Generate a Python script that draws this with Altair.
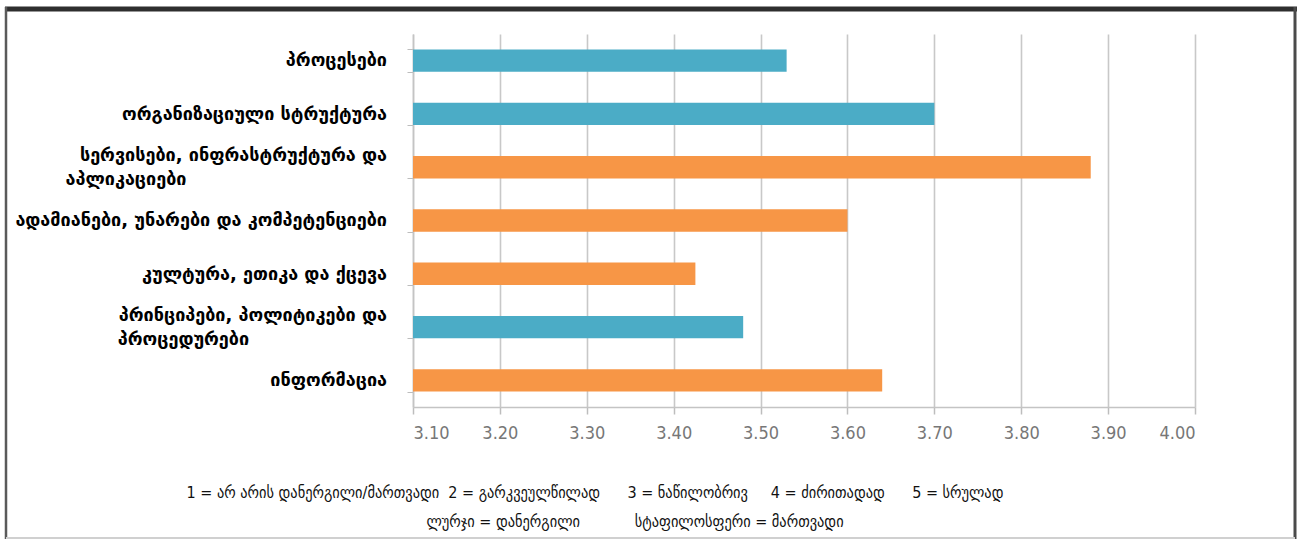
import altair as alt
import pandas as pd

# Categories, top to bottom; "|" marks a line break in the printed label
categories = [
    "პროცესები",
    "ორგანიზაციული სტრუქტურა",
    "სერვისები, ინფრასტრუქტურა და|აპლიკაციები",
    "ადამიანები, უნარები და კომპეტენციები",
    "კულტურა, ეთიკა და ქცევა",
    "პრინციპები, პოლიტიკები და|პროცედურები",
    "ინფორმაცია",
]
scores = [3.53, 3.70, 3.88, 3.60, 3.425, 3.48, 3.64]
groups = ["დანერგილი", "დანერგილი", "მართვადი", "მართვადი", "მართვადი", "დანერგილი", "მართვადი"]
group_names = ["დანერგილი", "მართვადი"]
group_colors = ["#4BACC6", "#F79646"]
x_ticks = [3.1, 3.2, 3.3, 3.4, 3.5, 3.6, 3.7, 3.8, 3.9, 4.0]
x_min, x_max = 3.1, 4.0

NB = "\u00a0"
ZW = "\u200b"  # keeps trailing no-break spaces from being trimmed
legend_line_1 = ("1 = არ არის დანერგილი/მართვადი" + NB * 2 + "2 = გარკვეულწილად" + NB * 6
                 + "3 = ნაწილობრივ" + NB * 5 + "4 = ძირითადად" + NB * 6 + "5 = სრულად")
legend_line_2 = "ლურჯი = დანერგილი" + NB * 12 + "სტაფილოსფერი = მართვადი"

# second lines of wrapped labels keep a left edge in line with the first line
wrap_pad = {"აპლიკაციები": 32, "პროცედურები": 22}


def printed_label(c):
    parts = c.split("|")
    if len(parts) > 1:
        parts[1] = parts[1] + NB * wrap_pad.get(parts[1], 0) + ZW
    return "|".join(parts)


df = pd.DataFrame({
    "category": categories,
    "score": scores,
    "group": groups,
    "label": [printed_label(c) for c in categories],
    # offset from the top of the bar's band: one-line names sit on the bar's middle
    "shift": [0 if "|" in c else 12 for c in categories],
})

W, H = 782, 373
PAD_L, PAD_T = 413, 34

y_enc = alt.Y(
    "category:N",
    sort=categories,
    scale=alt.Scale(paddingInner=0.58, paddingOuter=0.29),
    axis=alt.Axis(
        title=None,
        labels=False,
        tickBand="extent",
        tickSize=6,
        tickColor="#bdbdbd",
        domainColor="#c4c4c4",
        domainWidth=1.5,
        grid=False,
    ),
)

bars = alt.Chart(df).mark_bar().encode(
    y=y_enc,
    x=alt.X(
        "score:Q",
        scale=alt.Scale(domain=[x_min, x_max], zero=False, nice=False),
        axis=alt.Axis(
            title=None,
            values=x_ticks,
            format=".2f",
            labelFont="DejaVu Sans Condensed",
            labelFontSize=18,
            labelColor="#777777",
            labelPadding=10,
            tickSize=7,
            tickColor="#bdbdbd",
            tickWidth=1.5,
            domainColor="#c4c4c4",
            domainWidth=1.5,
            grid=True,
            gridColor="#c8c8c8",
            gridWidth=1.6,
        ),
    ),
    x2=alt.datum(x_min),
    color=alt.Color("group:N", scale=alt.Scale(domain=group_names, range=group_colors), legend=None),
)

# category names beside the axis (wrapped ones centred on their bar)
names = alt.Chart(df).mark_text(
    font="DejaVu Sans", fontWeight="bold", fontSize=18, color="#000000",
    align="right", baseline="middle", lineBreak="|", lineHeight=24,
).encode(
    y=alt.Y("category:N", sort=categories),
    yOffset=alt.YOffset("shift:Q", scale=None),
    x=alt.value(-26),
    text="label:N",
)

legend_texts = pd.DataFrame({"line": [legend_line_1, legend_line_2]})
legend_a = alt.Chart(legend_texts.iloc[[0]]).mark_text(
    font="DejaVu Sans Condensed", fontSize=16, color="#111111", align="center", baseline="middle"
).encode(text="line:N", x=alt.value(182), y=alt.value(459))
legend_b = alt.Chart(legend_texts.iloc[[1]]).mark_text(
    font="DejaVu Sans Condensed", fontSize=16, color="#111111", align="center", baseline="middle"
).encode(text="line:N", x=alt.value(222), y=alt.value(488))

# window-like frame around the whole figure
one = pd.DataFrame({"k": [0]})
frame_top = alt.Chart(one).mark_rule(color="#2e2e2e", strokeWidth=5).encode(
    x=alt.value(-408), x2=alt.value(884), y=alt.value(-25))
frame_left = alt.Chart(one).mark_rule(color="#5a5a5a", strokeWidth=2.5).encode(
    x=alt.value(-407), y=alt.value(-27), y2=alt.value(505))
frame_right = alt.Chart(one).mark_rule(color="#4a4a4a", strokeWidth=3).encode(
    x=alt.value(882), y=alt.value(-27), y2=alt.value(505))
frame_bottom = alt.Chart(one).mark_rule(color="#d0d0d0", strokeWidth=2).encode(
    x=alt.value(-407), x2=alt.value(882), y=alt.value(504))

chart = alt.layer(
    bars, names, legend_a, legend_b, frame_top, frame_left, frame_right, frame_bottom
).properties(
    width=W,
    height=H,
    autosize=alt.AutoSizeParams(type="none"),
    padding={"left": PAD_L, "top": PAD_T, "right": 1304 - PAD_L - W, "bottom": 541 - PAD_T - H},
    background="#ffffff",
).configure_view(stroke=None)

chart.save("out.html", embed_options={"renderer": "svg", "actions": False})
